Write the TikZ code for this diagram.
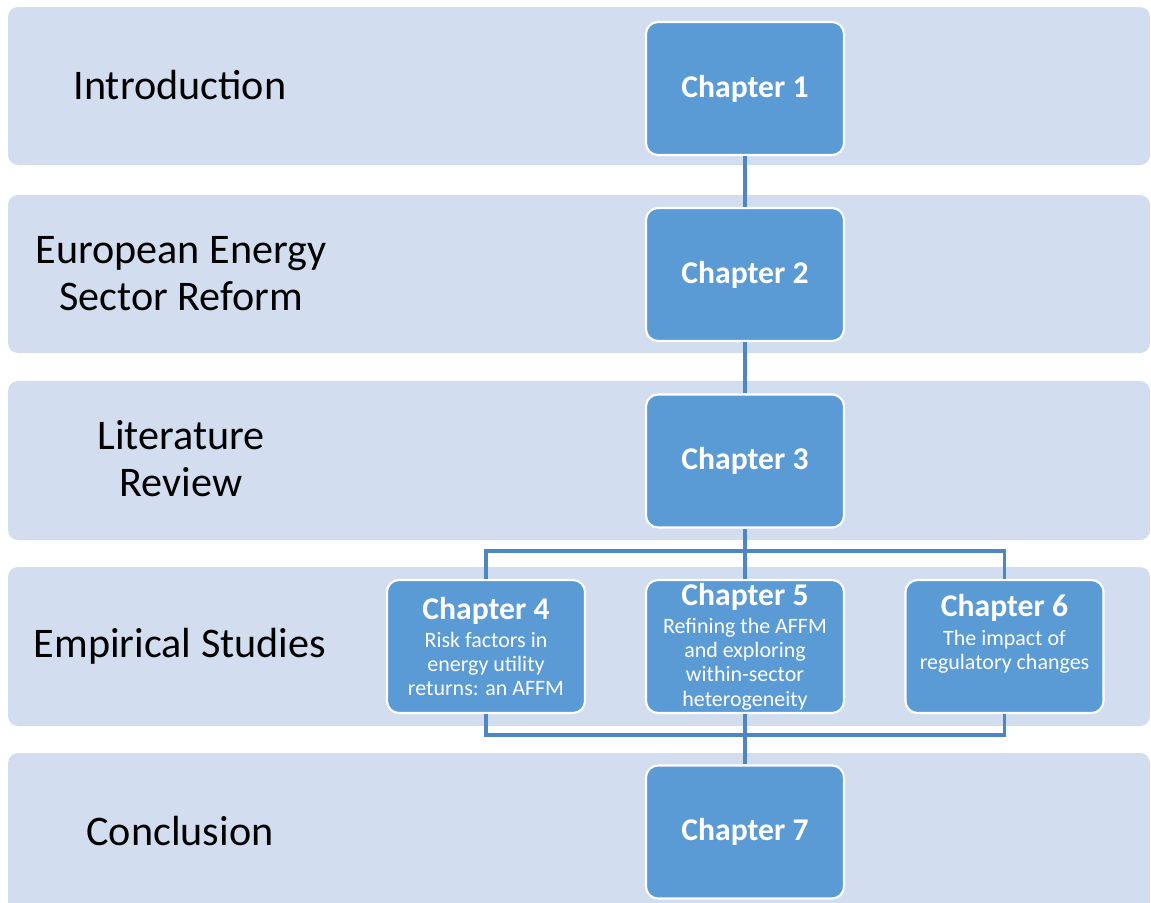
\documentclass[tikz,border=0pt]{standalone}
\usepackage{fontspec}
\setmainfont{Carlito}
\definecolor{bandblue}{HTML}{D2DEEF}
\definecolor{boxblue}{HTML}{5B9BD5}
\definecolor{lineblue}{HTML}{4E86C3}
\newcommand{\partfont}{\fontsize{24}{26.7}\selectfont}
\newcommand{\chtitle}{\fontsize{18}{20}\selectfont\bfseries}
\begin{document}
\begin{tikzpicture}[
    band fill/.style={fill=bandblue, rounded corners=0.2cm},
    part label/.style={align=center, font=\partfont},
    chapter box/.style={draw=white, line width=1.2pt, fill=boxblue, rounded corners=0.24cm,
        minimum width=3.96cm, minimum height=2.66cm, text=white, align=center,
        font=\fontsize{12.5}{13.7}\selectfont, inner sep=1pt},
    link line/.style={draw=lineblue, line width=1.8pt},
    ]
\useasboundingbox (0,0) rectangle (23.02,-18.06);
% background bands
\fill[band fill] (0.16,-0.14) rectangle (23.00,-3.30);
\fill[band fill] (0.16,-3.90) rectangle (23.00,-7.06);
\fill[band fill] (0.16,-7.62) rectangle (23.00,-10.80);
\fill[band fill] (0.16,-11.34) rectangle (23.00,-14.52);
\fill[band fill] (0.16,-15.06) rectangle (23.00,-18.40);
% part labels
\node[part label] (intro) at (3.60,-1.70) {Introduction};
\node[part label] (reform) at (3.62,-5.47) {European Energy\\Sector Reform};
\node[part label] (litrev) at (3.62,-9.18) {Literature\\Review};
\node[part label] (empirical) at (3.60,-12.92) {Empirical Studies};
\node[part label] (concl) at (3.60,-16.62) {Conclusion};
% chapters
\node[chapter box] (ch1) at (14.90,-1.77) {\chtitle Chapter 1};
\node[chapter box] (ch2) at (14.90,-5.49) {\chtitle Chapter 2};
\node[chapter box] (ch3) at (14.90,-9.22) {\chtitle Chapter 3};
\node[chapter box] (ch4) at (9.72,-12.93) {{\chtitle Chapter 4}\\[2.5pt]Risk factors in\\energy utility\\returns: an AFFM};
\node[chapter box] (ch5) at (14.90,-12.93) {{\chtitle Chapter 5}\\[2.5pt]Refining the AFFM\\and exploring\\within-sector\\heterogeneity};
\node[chapter box] (ch6) at (20.09,-12.93) {{\chtitle Chapter 6}\\[2.5pt]The impact of\\regulatory changes\\[3pt]\mbox{}};
\node[chapter box] (ch7) at (14.90,-16.64) {\chtitle Chapter 7};
\coordinate (split) at (14.90,-11.02);
\coordinate (merge) at (14.90,-14.70);
% connectors
\draw[link line] (ch1) -- (ch2);
\draw[link line] (ch2) -- (ch3);
\draw[link line] (ch3) -- (ch5);
\draw[link line] (ch4.north) |- (split) -| (ch6.north);
\draw[link line] (ch5) -- (ch7);
\draw[link line] (ch4.south) |- (merge) -| (ch6.south);
\end{tikzpicture}
\end{document}
